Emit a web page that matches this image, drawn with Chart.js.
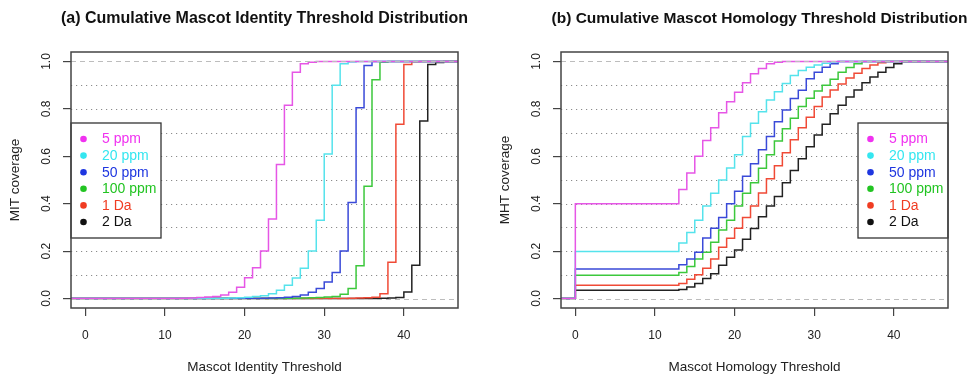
<!DOCTYPE html>
<html>
<head>
<meta charset="utf-8">
<script src="https://cdn.jsdelivr.net/npm/chart.js@4.4.1/dist/chart.umd.min.js"></script>
<style>
  html, body { margin: 0; padding: 0; background: #fff; }
  #wrap { position: relative; width: 969px; height: 377px; overflow: hidden; }
  canvas { position: absolute; top: 0; }
</style>
</head>
<body>
<div id="wrap">
  <canvas id="mit" width="484" height="377" style="left:0"></canvas>
  <canvas id="mht" width="485" height="377" style="left:484px"></canvas>
</div>
<script>
// thresholds -2 .. 47 (one value per integer)
const thresholds = [
  -2, -1, 0, 1, 2, 3, 4, 5, 6, 7,
  8, 9, 10, 11, 12, 13, 14, 15, 16, 17,
  18, 19, 20, 21, 22, 23, 24, 25, 26, 27,
  28, 29, 30, 31, 32, 33, 34, 35, 36, 37,
  38, 39, 40, 41, 42, 43, 44, 45, 46, 47
];

const seriesNames = ['5 ppm', '20 ppm', '50 ppm', '100 ppm', '1 Da', '2 Da'];

// (a) cumulative Mascot identity threshold
const mit5 = [
  0, 0, 0, 0, 0, 0, 0, 0, 0, 0,
  0, 0, 0, 0, 0.001, 0.002, 0.004, 0.006, 0.009, 0.015,
  0.026, 0.048, 0.088, 0.13, 0.2, 0.335, 0.565, 0.815, 0.955, 0.99,
  0.997, 1, 1, 1, 1, 1, 1, 1, 1, 1,
  1, 1, 1, 1, 1, 1, 1, 1, 1, 1
];
const mit20 = [
  0, 0, 0, 0, 0, 0, 0, 0, 0, 0,
  0, 0, 0, 0, 0, 0, 0, 0, 0, 0.001,
  0.002, 0.003, 0.005, 0.008, 0.012, 0.02, 0.035, 0.056, 0.087, 0.128,
  0.2, 0.33, 0.61, 0.9, 0.99, 0.998, 1, 1, 1, 1,
  1, 1, 1, 1, 1, 1, 1, 1, 1, 1
];
const mit50 = [
  0, 0, 0, 0, 0, 0, 0, 0, 0, 0,
  0, 0, 0, 0, 0, 0, 0, 0, 0, 0,
  0, 0, 0, 0, 0.001, 0.002, 0.003, 0.005, 0.009, 0.015,
  0.026, 0.042, 0.07, 0.11, 0.2, 0.405, 0.805, 0.983, 1, 1,
  1, 1, 1, 1, 1, 1, 1, 1, 1, 1
];
const mit100 = [
  0, 0, 0, 0, 0, 0, 0, 0, 0, 0,
  0, 0, 0, 0, 0, 0, 0, 0, 0, 0,
  0, 0, 0, 0, 0, 0, 0, 0, 0.001, 0.002,
  0.003, 0.004, 0.006, 0.009, 0.018, 0.042, 0.138, 0.474, 0.923, 0.997,
  1, 1, 1, 1, 1, 1, 1, 1, 1, 1
];
const mit1da = [
  0, 0, 0, 0, 0, 0, 0, 0, 0, 0,
  0, 0, 0, 0, 0, 0, 0, 0, 0, 0,
  0, 0, 0, 0, 0, 0, 0, 0, 0, 0,
  0, 0, 0, 0, 0, 0.001, 0.002, 0.003, 0.005, 0.02,
  0.153, 0.735, 0.987, 0.999, 1, 1, 1, 1, 1, 1
];
const mit2da = [
  0, 0, 0, 0, 0, 0, 0, 0, 0, 0,
  0, 0, 0, 0, 0, 0, 0, 0, 0, 0,
  0, 0, 0, 0, 0, 0, 0, 0, 0, 0,
  0, 0, 0, 0, 0, 0, 0, 0, 0, 0.001,
  0.002, 0.004, 0.028, 0.14, 0.749, 0.987, 0.996, 1, 1, 1
];

// (b) cumulative Mascot homology threshold
const mht5 = [
  0, 0, 0.4, 0.4, 0.4, 0.4, 0.4, 0.4, 0.4, 0.4,
  0.4, 0.4, 0.4, 0.4, 0.4, 0.46, 0.53, 0.6, 0.667, 0.72,
  0.784, 0.83, 0.87, 0.91, 0.948, 0.97, 0.99, 0.997, 1, 1,
  1, 1, 1, 1, 1, 1, 1, 1, 1, 1,
  1, 1, 1, 1, 1, 1, 1, 1, 1, 1
];
const mht20 = [
  0, 0, 0.198, 0.198, 0.198, 0.198, 0.198, 0.198, 0.198, 0.198,
  0.198, 0.198, 0.198, 0.198, 0.198, 0.234, 0.279, 0.33, 0.39, 0.444,
  0.5, 0.551, 0.607, 0.683, 0.739, 0.788, 0.837, 0.872, 0.907, 0.941,
  0.962, 0.976, 0.985, 0.993, 0.998, 1, 1, 1, 1, 1,
  1, 1, 1, 1, 1, 1, 1, 1, 1, 1
];
const mht50 = [
  0, 0, 0.125, 0.125, 0.125, 0.125, 0.125, 0.125, 0.125, 0.125,
  0.125, 0.125, 0.125, 0.125, 0.125, 0.142, 0.167, 0.195, 0.255, 0.296,
  0.342, 0.4, 0.453, 0.516, 0.569, 0.628, 0.683, 0.746, 0.795, 0.844,
  0.879, 0.927, 0.955, 0.976, 0.99, 1, 1, 1, 1, 1,
  1, 1, 1, 1, 1, 1, 1, 1, 1, 1
];
const mht100 = [
  0, 0, 0.098, 0.098, 0.098, 0.098, 0.098, 0.098, 0.098, 0.098,
  0.098, 0.098, 0.098, 0.098, 0.098, 0.11, 0.135, 0.167, 0.195, 0.237,
  0.289, 0.33, 0.39, 0.444, 0.488, 0.55, 0.607, 0.665, 0.716, 0.76,
  0.81, 0.845, 0.875, 0.9, 0.925, 0.955, 0.975, 0.99, 1, 1,
  1, 1, 1, 1, 1, 1, 1, 1, 1, 1
];
const mht1da = [
  0, 0, 0.056, 0.056, 0.056, 0.056, 0.056, 0.056, 0.056, 0.056,
  0.056, 0.056, 0.056, 0.056, 0.056, 0.063, 0.081, 0.1, 0.128, 0.167,
  0.216, 0.254, 0.296, 0.342, 0.39, 0.445, 0.505, 0.56, 0.615, 0.67,
  0.72, 0.765, 0.81, 0.85, 0.88, 0.905, 0.93, 0.95, 0.97, 0.985,
  0.995, 1, 1, 1, 1, 1, 1, 1, 1, 1
];
const mht2da = [
  0, 0, 0.035, 0.035, 0.035, 0.035, 0.035, 0.035, 0.035, 0.035,
  0.035, 0.035, 0.035, 0.035, 0.035, 0.038, 0.049, 0.063, 0.084, 0.105,
  0.14, 0.174, 0.205, 0.25, 0.295, 0.345, 0.39, 0.43, 0.488, 0.54,
  0.59, 0.64, 0.69, 0.735, 0.78, 0.815, 0.85, 0.88, 0.91, 0.935,
  0.955, 0.975, 0.99, 1, 1, 1, 1, 1, 1, 1
];

const xTicks = [0, 10, 20, 30, 40];
const yTicks = [0, 0.2, 0.4, 0.6, 0.8, 1.0];
const dottedLevels = [0.1, 0.2, 0.3, 0.4, 0.5, 0.6, 0.7, 0.8, 0.9];
const dashedLevels = [0, 1];

const lineColors = ['#e656e6', '#55e3ec', '#3a4ad8', '#3cc83c', '#f04a36', '#222222'];
const keyColors = ['#f032f0', '#34e6f0', '#1e36e0', '#22c422', '#f03c22', '#111111'];
const FONT = '"Liberation Sans", Arial, Helvetica, sans-serif';

// R-style frame: dotted/dashed reference lines, box, legend, titles, rotated y labels
const rFrame = {
  id: 'rFrame',
  beforeDatasetsDraw(chart) {
    const { ctx, chartArea: a, scales: { y } } = chart;
    ctx.save();
    ctx.strokeStyle = '#8c8c8c';
    ctx.lineWidth = 1;
    ctx.setLineDash([1.2, 3.8]);
    dottedLevels.forEach(v => {
      const py = Math.round(y.getPixelForValue(v)) + 0.5;
      ctx.beginPath(); ctx.moveTo(a.left, py); ctx.lineTo(a.right, py); ctx.stroke();
    });
    ctx.restore();
  },
  afterDatasetsDraw(chart, args, o) {
    const { ctx, chartArea: a, scales: { y } } = chart;
    ctx.save();
    ctx.strokeStyle = '#bdbdbd';
    ctx.lineWidth = 1;
    ctx.setLineDash([5, 4]);
    dashedLevels.forEach(v => {
      const py = Math.round(y.getPixelForValue(v)) + 0.5;
      ctx.beginPath(); ctx.moveTo(a.left, py); ctx.lineTo(a.right, py); ctx.stroke();
    });
    ctx.setLineDash([]);

    // legend
    const bw = 90, bh = 115;
    const bx = o.legendSide === 'left' ? a.left : a.right - bw;
    const by = Math.round((a.top + a.bottom) / 2 - bh / 2);
    ctx.fillStyle = '#fff';
    ctx.fillRect(bx, by, bw, bh);
    ctx.strokeStyle = '#333';
    ctx.lineWidth = 1.3;
    ctx.strokeRect(bx, by, bw, bh);
    ctx.font = '14px ' + FONT;
    ctx.textAlign = 'left';
    ctx.textBaseline = 'middle';
    seriesNames.forEach((name, i) => {
      const cy = by + 16 + i * 16.6;
      ctx.fillStyle = keyColors[i];
      ctx.beginPath(); ctx.arc(bx + 12.5, cy, 3.3, 0, Math.PI * 2); ctx.fill();
      ctx.fillText(name, bx + 31, cy + 0.5);
    });

    // box
    ctx.strokeStyle = '#444';
    ctx.lineWidth = 1.5;
    ctx.strokeRect(a.left, a.top, a.right - a.left, a.bottom - a.top);
    ctx.restore();
  },
  afterDraw(chart, args, o) {
    const { ctx, chartArea: a, scales: { y } } = chart;
    const cx = (a.left + a.right) / 2;
    const cy = (a.top + a.bottom) / 2;
    ctx.save();
    ctx.fillStyle = '#111';
    ctx.textAlign = 'center';
    ctx.textBaseline = 'middle';
    ctx.font = 'bold ' + o.titleSize + 'px ' + FONT;
    ctx.fillText(o.title, cx + o.titleShift, 19);
    ctx.font = '13.5px ' + FONT;
    ctx.fillStyle = '#222';
    ctx.fillText(o.xlab, cx, 367);
    ctx.save();
    ctx.translate(a.left - 56, cy);
    ctx.rotate(-Math.PI / 2);
    ctx.fillText(o.ylab, 0, 0);
    ctx.restore();
    ctx.font = '12px ' + FONT;
    y.ticks.forEach(t => {
      ctx.save();
      ctx.translate(a.left - 24, y.getPixelForValue(t.value));
      ctx.rotate(-Math.PI / 2);
      ctx.fillText(t.value.toFixed(1), 0, 0);
      ctx.restore();
    });
    ctx.restore();
  }
};

function makePanel(id, series, frame, axisWidth, padRight) {
  return new Chart(document.getElementById(id), {
    type: 'line',
    data: {
      datasets: series.map((vals, i) => ({
        label: seriesNames[i],
        data: thresholds.map((t, k) => ({ x: t, y: vals[k] })),
        borderColor: lineColors[i],
        borderWidth: 1.5,
        stepped: 'before',
        pointRadius: 0,
        fill: false,
        clip: 0
      }))
    },
    options: {
      responsive: false,
      animation: false,
      devicePixelRatio: 1,
      layout: { padding: { top: 52, right: padRight, left: 0, bottom: 0 } },
      plugins: { legend: { display: false }, tooltip: { enabled: false }, rFrame: frame },
      scales: {
        x: {
          type: 'linear',
          bounds: 'data',
          min: -1.8,
          max: 46.8,
          afterBuildTicks: s => { s.ticks = xTicks.map(v => ({ value: v })); },
          afterFit: s => { s.height = 69; },
          border: { display: false },
          grid: { drawOnChartArea: false, drawTicks: true, tickLength: 8, color: '#444', lineWidth: 1.2 },
          ticks: { font: { size: 12, family: FONT }, color: '#222', padding: 12, maxRotation: 0, autoSkip: false }
        },
        y: {
          type: 'linear',
          bounds: 'data',
          min: -0.04,
          max: 1.04,
          afterBuildTicks: s => { s.ticks = yTicks.map(v => ({ value: v })); },
          afterFit: s => { s.width = axisWidth; },
          border: { display: false },
          grid: { drawOnChartArea: false, drawTicks: true, tickLength: 8, color: '#444', lineWidth: 1.2 },
          ticks: { display: false }
        }
      }
    },
    plugins: [rFrame]
  });
}

makePanel('mit', [mit5, mit20, mit50, mit100, mit1da, mit2da], {
  title: '(a) Cumulative Mascot Identity Threshold Distribution',
  titleSize: 16,
  titleShift: 0,
  xlab: 'Mascot Identity Threshold',
  ylab: 'MIT coverage',
  legendSide: 'left'
}, 71, 26);

makePanel('mht', [mht5, mht20, mht50, mht100, mht1da, mht2da], {
  title: '(b) Cumulative Mascot Homology Threshold Distribution',
  titleSize: 15.5,
  titleShift: 5,
  xlab: 'Mascot Homology Threshold',
  ylab: 'MHT coverage',
  legendSide: 'right'
}, 77, 21);
</script>
</body>
</html>
